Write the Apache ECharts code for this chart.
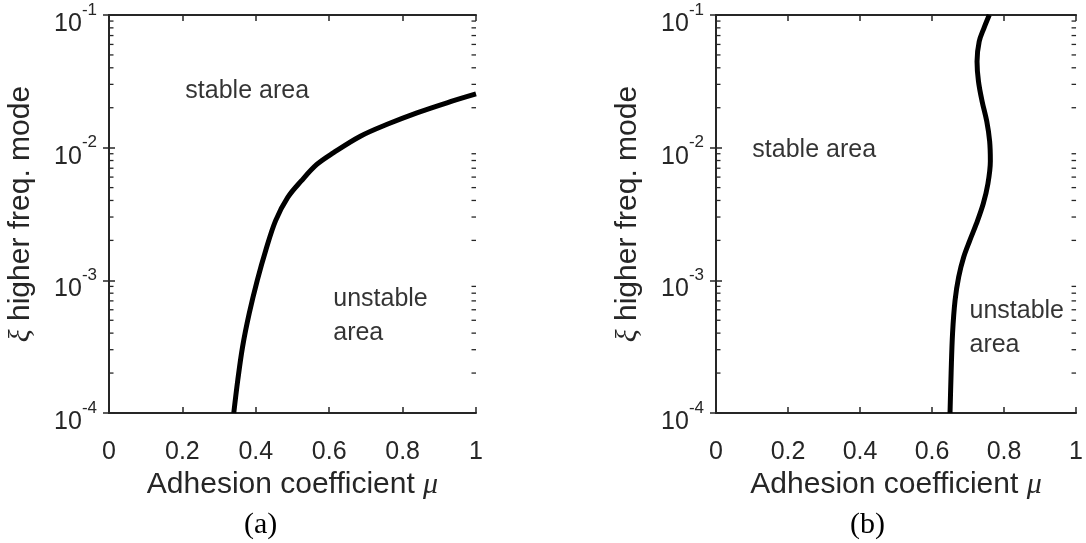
<!DOCTYPE html>
<html>
<head>
<meta charset="utf-8">
<script src="https://cdn.jsdelivr.net/npm/echarts@6/dist/echarts.min.js"></script>
<style>
  html, body { margin: 0; padding: 0; background: #fff; }
  #chart { width: 1086px; height: 543px; }
</style>
</head>
<body>
<div id="chart"></div>
<script>
// axis ranges / ticks
const muMin = 0, muMax = 1, muStep = 0.2;
const xiMin = 1e-4, xiMax = 1e-1;
const xiMinorTicks = [
  2e-4, 3e-4, 4e-4, 5e-4, 6e-4, 7e-4, 8e-4, 9e-4,
  2e-3, 3e-3, 4e-3, 5e-3, 6e-3, 7e-3, 8e-3, 9e-3,
  2e-2, 3e-2, 4e-2, 5e-2, 6e-2, 7e-2, 8e-2, 9e-2
];

// (a) stability boundary
const muA = [0.340, 0.351, 0.364, 0.382, 0.404, 0.427, 0.454, 0.487, 0.524, 0.567, 0.612, 0.685, 0.758, 0.839, 0.921, 1.0];
const xiA = [1e-4, 1.78e-4, 3.16e-4, 5.62e-4, 1.0e-3, 1.68e-3, 2.82e-3, 4.22e-3, 5.62e-3, 7.5e-3, 9.17e-3, 1.22e-2, 1.50e-2, 1.83e-2, 2.18e-2, 2.54e-2];

// (b) stability boundary
const muB = [0.650, 0.653, 0.657, 0.664, 0.674, 0.688, 0.705, 0.723, 0.742, 0.755, 0.762, 0.760, 0.752, 0.739, 0.729, 0.725, 0.731, 0.744, 0.759];
const xiB = [1e-4, 2.0e-4, 3.98e-4, 7.08e-4, 1.06e-3, 1.50e-3, 2.0e-3, 2.66e-3, 3.76e-3, 5.31e-3, 7.94e-3, 1.12e-2, 1.58e-2, 2.24e-2, 3.16e-2, 4.47e-2, 6.31e-2, 7.94e-2, 1e-1];

// region annotations (placed in data coordinates)
const notesA = ['stable area', 'unstable\narea'];
const notesAMu = [0.208, 0.611];
const notesAXi = [2.65e-2, 5.35e-4];
const notesB = ['stable area', 'unstable\narea'];
const notesBMu = [0.101, 0.704];
const notesBXi = [9.55e-3, 4.37e-4];

const captions = ['(a)', '(b)'];

const ink = '#262626';
const sans = 'Liberation Sans, Arial, sans-serif';
const serif = 'Liberation Serif, Times New Roman, serif';

const chart = echarts.init(document.getElementById('chart'));

const grids = [
  { left: 109, top: 15, width: 367, height: 398 },
  { left: 716, top: 15, width: 364, height: 398 }
];

function zip(a, b) { return a.map((v, i) => [v, b[i]]); }

const xAxis = [], yAxis = [], series = [];

grids.forEach((g, gi) => {
  // bottom + top x axes
  xAxis.push({
    type: 'value', gridIndex: gi, min: muMin, max: muMax, interval: muStep,
    position: 'bottom',
    name: 'Adhesion coefficient {m|μ}', nameLocation: 'middle', nameGap: 56,
    nameTextStyle: {
      color: ink, fontFamily: sans, fontSize: 30, lineHeight: 30,
      rich: { m: { fontFamily: serif, fontStyle: 'italic', fontSize: 30, color: ink } }
    },
    axisLine: { show: true, lineStyle: { color: ink, width: 2 } },
    axisTick: { show: true, inside: true, length: 6, lineStyle: { color: ink, width: 1.5 } },
    axisLabel: { color: ink, fontFamily: sans, fontSize: 25, margin: 27 },
    splitLine: { show: false }
  });
  xAxis.push({
    type: 'value', gridIndex: gi, min: muMin, max: muMax, interval: muStep,
    position: 'top',
    axisLine: { show: true, lineStyle: { color: ink, width: 2 } },
    axisTick: { show: true, inside: true, length: 6, lineStyle: { color: ink, width: 1.5 } },
    axisLabel: { show: false },
    splitLine: { show: false }
  });
  // left + right log y axes
  yAxis.push({
    type: 'log', logBase: 10, gridIndex: gi, min: xiMin, max: xiMax, splitNumber: 3,
    position: 'left',
    name: '{g|ξ} higher freq. mode', nameLocation: 'middle', nameGap: 73, nameRotate: 90,
    nameTextStyle: {
      color: ink, fontFamily: sans, fontSize: 30, lineHeight: 30,
      rich: { g: { fontFamily: serif, fontStyle: 'italic', fontSize: 30, color: ink } }
    },
    axisLine: { show: true, lineStyle: { color: ink, width: 2 } },
    axisTick: { show: true, inside: true, length: 6, lineStyle: { color: ink, width: 1.5 } },
    axisLabel: {
      margin: 12,
      padding: [8, 0, 0, 0],
      formatter: v => '{b|10}{s|' + Math.round(Math.log10(v)) + '}',
      rich: {
        b: { fontFamily: sans, fontSize: 25, color: ink, lineHeight: 35, verticalAlign: 'bottom' },
        s: { fontFamily: sans, fontSize: 17, color: ink, lineHeight: 17, verticalAlign: 'top' }
      }
    },
    splitLine: { show: false }
  });
  yAxis.push({
    type: 'log', logBase: 10, gridIndex: gi, min: xiMin, max: xiMax, splitNumber: 3,
    position: 'right',
    axisLine: { show: true, lineStyle: { color: ink, width: 2 } },
    axisTick: { show: true, inside: true, length: 6, lineStyle: { color: ink, width: 1.5 } },
    axisLabel: { show: false },
    splitLine: { show: false }
  });

  const xi = gi * 2, yi = gi * 2;

  // minor log ticks on both vertical sides
  series.push({
    type: 'custom', xAxisIndex: xi, yAxisIndex: yi, silent: true, clip: false, z: 5,
    data: xiMinorTicks.map(v => [muMin, v]),
    renderItem: (params, api) => {
      const l = api.coord([muMin, api.value(1)]);
      const r = api.coord([muMax, api.value(1)]);
      const style = { stroke: ink, lineWidth: 1.3 };
      return {
        type: 'group',
        children: [
          { type: 'line', shape: { x1: l[0], y1: l[1], x2: l[0] + 4.5, y2: l[1] }, style },
          { type: 'line', shape: { x1: r[0], y1: r[1], x2: r[0] - 4.5, y2: r[1] }, style }
        ]
      };
    }
  });

  // boundary curve
  series.push({
    type: 'line', xAxisIndex: xi, yAxisIndex: yi,
    data: gi === 0 ? zip(muA, xiA) : zip(muB, xiB),
    smooth: 0.35, showSymbol: false, silent: true,
    lineStyle: { color: '#000', width: 5 }
  });

  // region notes
  const names = gi === 0 ? notesA : notesB;
  const nMu = gi === 0 ? notesAMu : notesBMu;
  const nXi = gi === 0 ? notesAXi : notesBXi;
  series.push({
    type: 'scatter', xAxisIndex: xi, yAxisIndex: yi, symbolSize: 0, silent: true,
    data: names.map((t, i) => ({ value: [nMu[i], nXi[i]], name: t })),
    label: {
      show: true, position: 'right', distance: 0, align: 'left', verticalAlign: 'middle',
      formatter: p => p.name,
      color: '#000', fontFamily: sans, fontSize: 25, lineHeight: 34
    }
  });
});

chart.setOption({
  backgroundColor: '#fff',
  animation: false,
  grid: grids,
  xAxis,
  yAxis,
  series,
  graphic: [
    { type: 'text', left: 244, top: 510, style: { text: captions[0], font: '30px ' + serif, fill: '#000' } },
    { type: 'text', left: 850, top: 510, style: { text: captions[1], font: '30px ' + serif, fill: '#000' } }
  ]
});
</script>
</body>
</html>
